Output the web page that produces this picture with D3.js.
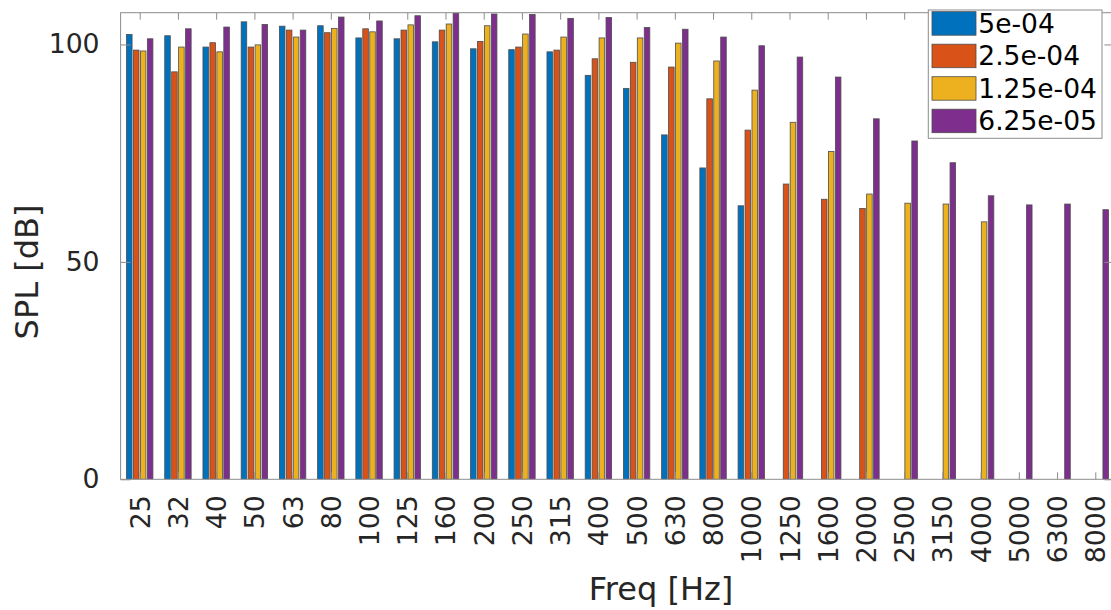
<!DOCTYPE html>
<html>
<head>
<meta charset="utf-8">
<script src="https://cdn.jsdelivr.net/npm/d3@7"></script>
<style>
  html, body { margin: 0; padding: 0; background: #fff; }
  svg { display: block; font-family: "DejaVu Sans", Verdana, sans-serif; }
</style>
</head>
<body>
<svg id="chart" width="1111" height="610"></svg>
<script>
// Third-octave band centre frequencies
const categories = ["25","32","40","50","63","80","100","125","160","200","250","315","400",
  "500","630","800","1000","1250","1600","2000","2500","3150","4000","5000","6300","8000"];

// SPL per band for each step size (null = no bar)
const series5e4 = [102.3,102.0,99.4,105.2,104.2,104.3,101.5,101.3,100.6,99.0,98.8,98.3,92.9,
  89.9,79.2,71.6,62.9,null,null,null,null,null,null,null,null,null];
const series25e4 = [98.7,93.7,100.4,99.4,103.3,102.7,103.6,103.3,103.3,100.7,99.4,98.7,96.7,
  95.9,94.8,87.5,80.3,67.9,64.4,62.3,null,null,null,null,null,null];
const series125e4 = [98.5,99.4,98.3,99.9,101.7,103.7,102.9,104.5,104.7,104.3,102.4,101.7,101.5,
  101.5,100.3,96.2,89.5,82.1,75.4,65.6,63.5,63.3,59.2,null,null,null];
const series625e5 = [101.3,103.6,104.0,104.6,103.3,106.3,105.4,106.6,107.2,107.0,106.9,106.0,106.2,
  103.9,103.5,101.7,99.7,97.1,92.5,82.9,77.8,72.8,65.2,63.1,63.3,62.0];

const seriesNames = ["5e-04","2.5e-04","1.25e-04","6.25e-05"];
const seriesColors = ["#0072BD","#D95319","#EDB120","#7E2F8E"];
const yTicks = [0, 50, 100];

const allSeries = [series5e4, series25e4, series125e4, series625e5];

const svg = d3.select("#chart");
const textColor = "#262626";
const axisColor = "#8c8c8c";

// Plot box
const plotL = 120.6, plotR = 1114.4, plotT = 12.7, plotB = 479.3;

const x = d3.scaleLinear().domain([0.5, categories.length + 0.5]).range([plotL, plotR]);
const y = d3.scaleLinear().domain([0, 107.3]).range([plotB, plotT]);

// Grouped bar geometry (in category units)
const nS = allSeries.length;
const groupWidth = Math.min(0.8, nS / (nS + 1.5));
const slot = groupWidth / nS;
const barW = slot * 0.8;

svg.append("defs").append("clipPath").attr("id", "plotClip")
  .append("rect").attr("x", plotL).attr("y", plotT).attr("width", plotR - plotL).attr("height", plotB - plotT);

const barsG = svg.append("g").attr("clip-path", "url(#plotClip)");
allSeries.forEach((vals, s) => {
  const offset = (s - (nS - 1) / 2) * slot;
  barsG.append("g").selectAll("rect")
    .data(vals.map((v, i) => ({ v, i })).filter(d => d.v !== null))
    .join("rect")
    .attr("x", d => x(d.i + 1 + offset - barW / 2))
    .attr("width", x(barW) - x(0))
    .attr("y", d => y(d.v))
    .attr("height", d => y(0) - y(d.v))
    .attr("fill", seriesColors[s])
    .attr("stroke", "#4d4d4d")
    .attr("stroke-width", 0.8);
});

// Axes box
svg.append("rect").attr("x", plotL).attr("y", plotT).attr("width", plotR - plotL).attr("height", plotB - plotT)
  .attr("fill", "none").attr("stroke", axisColor).attr("stroke-width", 1);

// Y axis (ticks inward, labels outside)
const yAxis = d3.axisLeft(y).tickValues(yTicks).tickSize(-10).tickPadding(21).tickFormat(d3.format("d"));
const yG = svg.append("g").attr("transform", `translate(${plotL},0)`).call(yAxis);
yG.select(".domain").remove();
yG.selectAll(".tick line").attr("stroke", axisColor);
yG.selectAll(".tick text").attr("fill", textColor).style("font-size", "26.7px")
  .style("font-family", "DejaVu Sans");

// Right-side ticks
const yR = d3.axisRight(y).tickValues(yTicks).tickSize(-10).tickFormat("");
const yRG = svg.append("g").attr("transform", `translate(${plotR},0)`).call(yR);
yRG.select(".domain").remove();
yRG.selectAll(".tick line").attr("stroke", axisColor);

// X axis
const xAxis = d3.axisBottom(x).tickValues(d3.range(1, categories.length + 1))
  .tickSize(-7).tickFormat(d => categories[d - 1]);
const xG = svg.append("g").attr("transform", `translate(0,${plotB})`).call(xAxis);
xG.select(".domain").remove();
xG.selectAll(".tick line").attr("stroke", axisColor);
xG.selectAll(".tick text")
  .attr("fill", textColor)
  .style("font-size", "26.7px")
  .style("font-family", "DejaVu Sans")
  .attr("text-anchor", "end")
  .attr("dominant-baseline", "central")
  .attr("dy", null)
  .attr("y", 0)
  .attr("transform", "translate(0,16) rotate(-90)");

// Top ticks
const xT = d3.axisTop(x).tickValues(d3.range(1, categories.length + 1)).tickSize(-7).tickFormat("");
const xTG = svg.append("g").attr("transform", `translate(0,${plotT})`).call(xT);
xTG.select(".domain").remove();
xTG.selectAll(".tick line").attr("stroke", axisColor);

// Axis labels
svg.append("text")
  .attr("transform", "translate(27,272) rotate(-90)")
  .attr("text-anchor", "middle").attr("dominant-baseline", "central")
  .attr("fill", textColor).style("font-size", "32px")
  .text("SPL [dB]");

svg.append("text")
  .attr("x", 661).attr("y", 600)
  .attr("text-anchor", "middle")
  .attr("fill", textColor).style("font-size", "32px")
  .text("Freq [Hz]");

// Legend
const lg = svg.append("g");
lg.append("rect").attr("x", 928.3).attr("y", 10).attr("width", 173.7).attr("height", 128.3)
  .attr("fill", "#fff").attr("stroke", axisColor).attr("stroke-width", 1);
seriesNames.forEach((name, s) => {
  const yy = 11.7 + s * 32.5;
  lg.append("rect").attr("x", 932).attr("y", yy).attr("width", 44).attr("height", 23.5)
    .attr("fill", seriesColors[s]).attr("stroke", "#4d4d4d").attr("stroke-width", 0.8);
  lg.append("text").attr("x", 978.3).attr("y", yy + 11.75).attr("dominant-baseline", "central")
    .attr("fill", "#000").style("font-size", "26.5px").text(name);
});
</script>
</body>
</html>
